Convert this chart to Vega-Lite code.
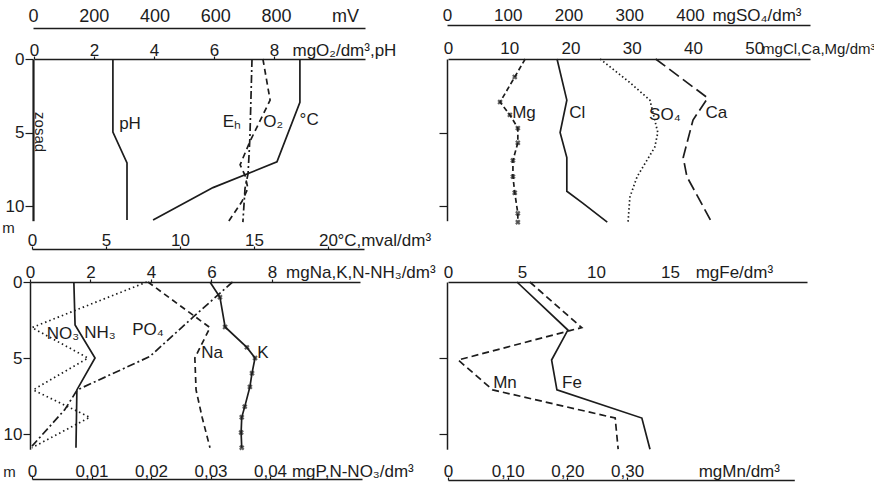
{
  "$schema": "https://vega.github.io/schema/vega-lite/v6.json",
  "width": 874,
  "height": 483,
  "autosize": "none",
  "padding": 0,
  "background": "white",
  "config": {
    "view": {"stroke": null},
    "font": "Liberation Sans, Arial, sans-serif",
    "axis": {
      "grid": false,
      "domainColor": "#1c1c1c",
      "domainWidth": 1.5,
      "tickColor": "#1c1c1c",
      "tickWidth": 1.2,
      "tickSize": 3,
      "labelColor": "#1c1c1c",
      "labelFont": "Liberation Sans, Arial, sans-serif",
      "labelFontSize": 17,
      "labelFlush": false,
      "labelOverlap": false,
      "labelBound": false,
      "labelPadding": 2,
      "titleColor": "#1c1c1c",
      "titleFont": "Liberation Sans, Arial, sans-serif",
      "titleFontWeight": "normal",
      "titleFontSize": 15
    },
    "axisX": {"labelBaseline": "alphabetic"},
    "line": {"color": "#1c1c1c", "strokeWidth": 1.7},
    "point": {"color": "#1c1c1c"},
    "text": {"color": "#1c1c1c", "fontSize": 17, "font": "Liberation Sans, Arial, sans-serif"}
  },
  "data": {
    "values": [
      {"s": "pH", "d": 0, "v": 2.63}, {"s": "pH", "d": 4.97, "v": 2.63}, {"s": "pH", "d": 7.07, "v": 3.1}, {"s": "pH", "d": 10.95, "v": 3.1},
      {"s": "T", "d": 0, "v": 18.1}, {"s": "T", "d": 2.95, "v": 18.1}, {"s": "T", "d": 7.0, "v": 16.55}, {"s": "T", "d": 8.75, "v": 12.23}, {"s": "T", "d": 10.95, "v": 8.18},
      {"s": "Eh", "d": 0, "v": 721}, {"s": "Eh", "d": 5.4, "v": 714}, {"s": "Eh", "d": 7.8, "v": 708}, {"s": "Eh", "d": 8.8, "v": 698}, {"s": "Eh", "d": 11.1, "v": 691},
      {"s": "O2", "d": 0, "v": 7.63}, {"s": "O2", "d": 2.8, "v": 7.87}, {"s": "O2", "d": 5.6, "v": 7.2}, {"s": "O2", "d": 7.2, "v": 6.87}, {"s": "O2", "d": 7.9, "v": 7.03}, {"s": "O2", "d": 8.8, "v": 7.13}, {"s": "O2", "d": 9.7, "v": 6.93}, {"s": "O2", "d": 11.1, "v": 6.47},
      {"s": "Mg", "d": 0, "v": 12.6}, {"s": "Mg", "d": 1.22, "v": 10.9}, {"s": "Mg", "d": 2.93, "v": 8.5}, {"s": "Mg", "d": 3.8, "v": 10.1}, {"s": "Mg", "d": 4.7, "v": 11.4}, {"s": "Mg", "d": 5.7, "v": 11.4}, {"s": "Mg", "d": 6.9, "v": 10.6}, {"s": "Mg", "d": 8.0, "v": 10.6}, {"s": "Mg", "d": 9.1, "v": 10.9}, {"s": "Mg", "d": 10.5, "v": 11.4}, {"s": "Mg", "d": 11.1, "v": 11.4},
      {"s": "Cl", "d": 0, "v": 17.8}, {"s": "Cl", "d": 2.8, "v": 19.4}, {"s": "Cl", "d": 5.0, "v": 18.3}, {"s": "Cl", "d": 6.7, "v": 19.4}, {"s": "Cl", "d": 9.0, "v": 19.4}, {"s": "Cl", "d": 9.8, "v": 22.0}, {"s": "Cl", "d": 11.1, "v": 26.0},
      {"s": "SO4", "d": 0, "v": 252}, {"s": "SO4", "d": 1.6, "v": 301}, {"s": "SO4", "d": 2.8, "v": 334}, {"s": "SO4", "d": 5.0, "v": 347}, {"s": "SO4", "d": 6.0, "v": 342}, {"s": "SO4", "d": 8.0, "v": 313}, {"s": "SO4", "d": 9.4, "v": 301}, {"s": "SO4", "d": 11.1, "v": 298},
      {"s": "Ca", "d": 0, "v": 33.9}, {"s": "Ca", "d": 2.65, "v": 42.4}, {"s": "Ca", "d": 4.15, "v": 40.0}, {"s": "Ca", "d": 6.7, "v": 38.4}, {"s": "Ca", "d": 8.0, "v": 39.0}, {"s": "Ca", "d": 11.15, "v": 43.1},
      {"s": "NH3", "d": 0, "v": 1.45}, {"s": "NH3", "d": 2.83, "v": 1.49}, {"s": "NH3", "d": 5.0, "v": 2.15}, {"s": "NH3", "d": 7.1, "v": 1.55}, {"s": "NH3", "d": 10.9, "v": 1.52},
      {"s": "NO3", "d": 0, "v": 0.0193}, {"s": "NO3", "d": 1.3, "v": 0.0109}, {"s": "NO3", "d": 3.0, "v": 0}, {"s": "NO3", "d": 5.0, "v": 0.0094}, {"s": "NO3", "d": 7.1, "v": 0.0002}, {"s": "NO3", "d": 8.9, "v": 0.0097}, {"s": "NO3", "d": 10.9, "v": 0},
      {"s": "PO4", "d": 0, "v": 0.0337}, {"s": "PO4", "d": 2.3, "v": 0.0271}, {"s": "PO4", "d": 4.9, "v": 0.0198}, {"s": "PO4", "d": 7.1, "v": 0.0076}, {"s": "PO4", "d": 8.4, "v": 0.0055}, {"s": "PO4", "d": 10.8, "v": 0},
      {"s": "Na", "d": 0, "v": 3.9}, {"s": "Na", "d": 3.0, "v": 5.95}, {"s": "Na", "d": 5.0, "v": 5.45}, {"s": "Na", "d": 7.1, "v": 5.49}, {"s": "Na", "d": 8.9, "v": 5.69}, {"s": "Na", "d": 10.9, "v": 5.95},
      {"s": "K", "d": 0, "v": 5.95}, {"s": "K", "d": 1.0, "v": 6.28}, {"s": "K", "d": 2.96, "v": 6.45}, {"s": "K", "d": 4.3, "v": 7.17}, {"s": "K", "d": 5.0, "v": 7.44}, {"s": "K", "d": 6.0, "v": 7.34}, {"s": "K", "d": 6.9, "v": 7.27}, {"s": "K", "d": 8.2, "v": 7.1}, {"s": "K", "d": 8.9, "v": 7.0}, {"s": "K", "d": 9.9, "v": 6.98}, {"s": "K", "d": 10.9, "v": 7.0},
      {"s": "Fe", "d": 0, "v": 4.66}, {"s": "Fe", "d": 3.16, "v": 8.1}, {"s": "Fe", "d": 5.13, "v": 7.0}, {"s": "Fe", "d": 7.1, "v": 7.36}, {"s": "Fe", "d": 8.95, "v": 13.1}, {"s": "Fe", "d": 11.0, "v": 13.65},
      {"s": "Mn", "d": 0, "v": 0.137}, {"s": "Mn", "d": 3.0, "v": 0.224}, {"s": "Mn", "d": 3.2, "v": 0.204}, {"s": "Mn", "d": 5.13, "v": 0.017}, {"s": "Mn", "d": 7.1, "v": 0.075}, {"s": "Mn", "d": 8.95, "v": 0.28}, {"s": "Mn", "d": 11.0, "v": 0.285},
      {"s": "lab", "p": "TL", "t": "pH", "d": 4.42, "v": 3.2},
      {"s": "lab", "p": "TL", "t": "Eₕ", "d": 4.29, "v": 6.6},
      {"s": "lab", "p": "TL", "t": "O₂", "d": 4.29, "v": 7.97},
      {"s": "lab", "p": "TL", "t": "°C", "d": 4.15, "v": 9.17},
      {"s": "osad", "p": "TL", "t": "zosad", "d": 4.97, "v": 0.2},
      {"s": "lab", "p": "TR", "t": "Mg", "d": 3.67, "v": 12.4},
      {"s": "lab", "p": "TR", "t": "Cl", "d": 3.67, "v": 21.1},
      {"s": "lab", "p": "TR", "t": "SO₄", "d": 3.8, "v": 35.4},
      {"s": "lab", "p": "TR", "t": "Ca", "d": 3.67, "v": 43.8},
      {"s": "lab", "p": "BL", "t": "NO₃", "d": 3.42, "v": 1.09},
      {"s": "lab", "p": "BL", "t": "NH₃", "d": 3.36, "v": 2.31},
      {"s": "lab", "p": "BL", "t": "PO₄", "d": 3.16, "v": 3.9},
      {"s": "lab", "p": "BL", "t": "Na", "d": 4.67, "v": 6.02},
      {"s": "lab", "p": "BL", "t": "K", "d": 4.67, "v": 7.7},
      {"s": "lab", "p": "BR", "t": "Mn", "d": 6.64, "v": 3.85},
      {"s": "lab", "p": "BR", "t": "Fe", "d": 6.64, "v": 8.38}
    ]
  },
  "layer": [
    {
      "transform": [{"filter": "datum.s == 'Eh'"}],
      "mark": {"type": "line", "strokeDash": [8, 3, 2, 3]},
      "encoding": {
        "x": {"field": "v", "type": "quantitative", "scale": {"domain": [0, 1093], "range": [33, 365], "nice": false, "zero": false},
          "axis": {"orient": "top", "offset": -28, "title": null, "values": [0, 200, 400, 600, 800, 1027], "ticks": false, "labelPadding": 7, "labelFontSize": 18,
            "labelExpr": "datum.value > 900 ? 'mV' : datum.label"}},
        "y": {"field": "d", "type": "quantitative", "scale": {"domain": [0, 11], "range": [59, 220.7], "nice": false, "zero": false},
          "axis": {"orient": "left", "offset": -33, "title": "m", "titleAngle": 0, "titleX": -25, "titleY": 227, "titleAlign": "center", "titleBaseline": "middle", "values": [0, 5, 10], "tickSize": 8, "labelPadding": 1, "domainWidth": 2.2}},
        "order": {"field": "d", "type": "quantitative"}
      }
    },
    {
      "transform": [{"filter": "datum.s == 'O2'"}],
      "mark": {"type": "line", "strokeDash": [6, 4]},
      "encoding": {
        "x": {"field": "v", "type": "quantitative", "scale": {"domain": [0, 11.033], "range": [34, 365], "nice": false, "zero": false},
          "axis": {"orient": "top", "offset": -59, "title": null, "values": [0, 2, 4, 6, 8, 8.6], "labelPadding": 1,
            "labelExpr": "datum.value > 8.3 ? 'mgO₂/dm³,pH' : datum.label",
            "labelAlign": {"condition": {"test": "datum.value > 8.3", "value": "left"}, "value": "center"},
            "tickOpacity": {"condition": {"test": "datum.value > 8.3", "value": 0}, "value": 1}}},
        "y": {"field": "d", "type": "quantitative", "scale": {"domain": [0, 11], "range": [59, 220.7], "nice": false, "zero": false}, "axis": null},
        "order": {"field": "d", "type": "quantitative"}
      }
    },
    {
      "transform": [{"filter": "datum.s == 'pH'"}],
      "mark": {"type": "line"},
      "encoding": {
        "x": {"field": "v", "type": "quantitative", "scale": {"domain": [0, 11.033], "range": [34, 365], "nice": false, "zero": false}, "axis": null},
        "y": {"field": "d", "type": "quantitative", "scale": {"domain": [0, 11], "range": [59, 220.7], "nice": false, "zero": false}, "axis": null},
        "order": {"field": "d", "type": "quantitative"}
      }
    },
    {
      "transform": [{"filter": "datum.s == 'T'"}],
      "mark": {"type": "line"},
      "encoding": {
        "x": {"field": "v", "type": "quantitative", "scale": {"domain": [0, 22.43], "range": [32, 364], "nice": false, "zero": false},
          "axis": {"orient": "top", "offset": -249, "title": null, "values": [0, 5, 10, 15, 20, 20.6], "labelPadding": 1,
            "labelExpr": "datum.value > 20.3 ? '°C,mval/dm³' : datum.label",
            "labelAlign": {"condition": {"test": "datum.value > 20.3", "value": "left"}, "value": "center"},
            "tickOpacity": {"condition": {"test": "datum.value > 20.3", "value": 0}, "value": 1}}},
        "y": {"field": "d", "type": "quantitative", "scale": {"domain": [0, 11], "range": [59, 220.7], "nice": false, "zero": false}, "axis": null},
        "order": {"field": "d", "type": "quantitative"}
      }
    },
    {
      "transform": [{"filter": "datum.s == 'lab' && datum.p == 'TL'"}],
      "mark": {"type": "text", "align": "center", "baseline": "middle"},
      "encoding": {
        "x": {"field": "v", "type": "quantitative", "scale": {"domain": [0, 11.033], "range": [34, 365], "nice": false, "zero": false}, "axis": null},
        "y": {"field": "d", "type": "quantitative", "scale": {"domain": [0, 11], "range": [59, 220.7], "nice": false, "zero": false}, "axis": null},
        "text": {"field": "t"}
      }
    },
    {
      "transform": [{"filter": "datum.s == 'osad'"}],
      "mark": {"type": "text", "align": "center", "baseline": "middle", "angle": 90, "fontSize": 15},
      "encoding": {
        "x": {"field": "v", "type": "quantitative", "scale": {"domain": [0, 11.033], "range": [34, 365], "nice": false, "zero": false}, "axis": null},
        "y": {"field": "d", "type": "quantitative", "scale": {"domain": [0, 11], "range": [59, 220.7], "nice": false, "zero": false}, "axis": null},
        "text": {"field": "t"}
      }
    },
    {
      "transform": [{"filter": "datum.s == 'SO4'"}],
      "mark": {"type": "line", "strokeDash": [1.5, 2.5]},
      "encoding": {
        "x": {"field": "v", "type": "quantitative", "scale": {"domain": [0, 597.5], "range": [447, 810], "nice": false, "zero": false},
          "axis": {"orient": "top", "offset": -25, "title": null, "values": [0, 100, 200, 300, 400, 436], "ticks": false, "labelPadding": 5,
            "labelExpr": "datum.value > 420 ? 'mgSO₄/dm³' : datum.label",
            "labelAlign": {"condition": {"test": "datum.value > 420", "value": "left"}, "value": "center"}}},
        "y": {"field": "d", "type": "quantitative", "scale": {"domain": [0, 11], "range": [59, 220.7], "nice": false, "zero": false},
          "axis": {"orient": "left", "offset": -447, "title": null, "values": [5, 10], "labels": false, "tickSize": 8}},
        "order": {"field": "d", "type": "quantitative"}
      }
    },
    {
      "transform": [{"filter": "datum.s == 'Cl'"}],
      "mark": {"type": "line"},
      "encoding": {
        "x": {"field": "v", "type": "quantitative", "scale": {"domain": [0, 59.1], "range": [448, 810], "nice": false, "zero": false},
          "axis": {"orient": "top", "offset": -59, "title": null, "values": [0, 10, 20, 30, 40, 50, 51.2], "ticks": false, "labelPadding": 6,
            "labelExpr": "datum.value > 51 ? 'mgCl,Ca,Mg/dm³' : datum.label",
            "labelAlign": {"condition": {"test": "datum.value > 51", "value": "left"}, "value": "center"},
            "labelFontSize": {"condition": {"test": "datum.value > 51", "value": 15}, "value": 17}}},
        "y": {"field": "d", "type": "quantitative", "scale": {"domain": [0, 11], "range": [59, 220.7], "nice": false, "zero": false}, "axis": null},
        "order": {"field": "d", "type": "quantitative"}
      }
    },
    {
      "transform": [{"filter": "datum.s == 'Mg'"}],
      "mark": {"type": "line", "strokeDash": [5, 3]},
      "encoding": {
        "x": {"field": "v", "type": "quantitative", "scale": {"domain": [0, 59.1], "range": [448, 810], "nice": false, "zero": false}, "axis": null},
        "y": {"field": "d", "type": "quantitative", "scale": {"domain": [0, 11], "range": [59, 220.7], "nice": false, "zero": false}, "axis": null},
        "order": {"field": "d", "type": "quantitative"}
      }
    },
    {
      "transform": [{"filter": "datum.s == 'Mg' && datum.d > 0"}],
      "mark": {"type": "point", "shape": "cross", "angle": 45, "size": 30, "filled": true},
      "encoding": {
        "x": {"field": "v", "type": "quantitative", "scale": {"domain": [0, 59.1], "range": [448, 810], "nice": false, "zero": false}, "axis": null},
        "y": {"field": "d", "type": "quantitative", "scale": {"domain": [0, 11], "range": [59, 220.7], "nice": false, "zero": false}, "axis": null}
      }
    },
    {
      "transform": [{"filter": "datum.s == 'Ca'"}],
      "mark": {"type": "line", "strokeDash": [12, 5]},
      "encoding": {
        "x": {"field": "v", "type": "quantitative", "scale": {"domain": [0, 59.1], "range": [448, 810], "nice": false, "zero": false}, "axis": null},
        "y": {"field": "d", "type": "quantitative", "scale": {"domain": [0, 11], "range": [59, 220.7], "nice": false, "zero": false}, "axis": null},
        "order": {"field": "d", "type": "quantitative"}
      }
    },
    {
      "transform": [{"filter": "datum.s == 'lab' && datum.p == 'TR'"}],
      "mark": {"type": "text", "align": "center", "baseline": "middle"},
      "encoding": {
        "x": {"field": "v", "type": "quantitative", "scale": {"domain": [0, 59.1], "range": [448, 810], "nice": false, "zero": false}, "axis": null},
        "y": {"field": "d", "type": "quantitative", "scale": {"domain": [0, 11], "range": [59, 220.7], "nice": false, "zero": false}, "axis": null},
        "text": {"field": "t"}
      }
    },
    {
      "transform": [{"filter": "datum.s == 'NH3'"}],
      "mark": {"type": "line"},
      "encoding": {
        "x": {"field": "v", "type": "quantitative", "scale": {"domain": [0, 10.91], "range": [30, 360], "nice": false, "zero": false},
          "axis": {"orient": "top", "offset": -282, "title": null, "values": [0, 2, 4, 6, 8, 8.45], "labelPadding": 2,
            "labelExpr": "datum.value > 8.2 ? 'mgNa,K,N-NH₃/dm³' : datum.label",
            "labelAlign": {"condition": {"test": "datum.value > 8.2", "value": "left"}, "value": "center"},
            "tickOpacity": {"condition": {"test": "datum.value > 8.2", "value": 0}, "value": 1}}},
        "y": {"field": "d", "type": "quantitative", "scale": {"domain": [0, 11], "range": [282, 449.2], "nice": false, "zero": false},
          "axis": {"orient": "left", "offset": -30, "title": "m", "titleAngle": 0, "titleX": -21, "titleY": 471, "titleAlign": "center", "titleBaseline": "middle", "values": [0, 5, 10], "tickSize": 7, "labelPadding": 1}},
        "order": {"field": "d", "type": "quantitative"}
      }
    },
    {
      "transform": [{"filter": "datum.s == 'NO3'"}],
      "mark": {"type": "line", "strokeDash": [1.5, 3]},
      "encoding": {
        "x": {"field": "v", "type": "quantitative", "scale": {"domain": [0, 0.05546], "range": [32, 362], "nice": false, "zero": false},
          "axis": {"orient": "top", "offset": -479, "title": null, "values": [0, 0.01, 0.02, 0.03, 0.04, 0.0436], "labelPadding": 0,
            "labelExpr": "datum.value > 0.041 ? 'mgP,N-NO₃/dm³' : (datum.value == 0 ? '0' : replace(format(datum.value, '.2f'), '.', ','))",
            "labelAlign": {"condition": {"test": "datum.value > 0.041", "value": "left"}, "value": "center"},
            "tickOpacity": {"condition": {"test": "datum.value > 0.041", "value": 0}, "value": 1}}},
        "y": {"field": "d", "type": "quantitative", "scale": {"domain": [0, 11], "range": [282, 449.2], "nice": false, "zero": false}, "axis": null},
        "order": {"field": "d", "type": "quantitative"}
      }
    },
    {
      "transform": [{"filter": "datum.s == 'PO4'"}],
      "mark": {"type": "line", "strokeDash": [8, 3, 2, 3]},
      "encoding": {
        "x": {"field": "v", "type": "quantitative", "scale": {"domain": [0, 0.05546], "range": [32, 362], "nice": false, "zero": false}, "axis": null},
        "y": {"field": "d", "type": "quantitative", "scale": {"domain": [0, 11], "range": [282, 449.2], "nice": false, "zero": false}, "axis": null},
        "order": {"field": "d", "type": "quantitative"}
      }
    },
    {
      "transform": [{"filter": "datum.s == 'Na'"}],
      "mark": {"type": "line", "strokeDash": [6, 4]},
      "encoding": {
        "x": {"field": "v", "type": "quantitative", "scale": {"domain": [0, 10.91], "range": [30, 360], "nice": false, "zero": false}, "axis": null},
        "y": {"field": "d", "type": "quantitative", "scale": {"domain": [0, 11], "range": [282, 449.2], "nice": false, "zero": false}, "axis": null},
        "order": {"field": "d", "type": "quantitative"}
      }
    },
    {
      "transform": [{"filter": "datum.s == 'K'"}],
      "mark": {"type": "line"},
      "encoding": {
        "x": {"field": "v", "type": "quantitative", "scale": {"domain": [0, 10.91], "range": [30, 360], "nice": false, "zero": false}, "axis": null},
        "y": {"field": "d", "type": "quantitative", "scale": {"domain": [0, 11], "range": [282, 449.2], "nice": false, "zero": false}, "axis": null},
        "order": {"field": "d", "type": "quantitative"}
      }
    },
    {
      "transform": [{"filter": "datum.s == 'K' && datum.d > 0"}],
      "mark": {"type": "point", "shape": "cross", "angle": 45, "size": 30, "filled": true},
      "encoding": {
        "x": {"field": "v", "type": "quantitative", "scale": {"domain": [0, 10.91], "range": [30, 360], "nice": false, "zero": false}, "axis": null},
        "y": {"field": "d", "type": "quantitative", "scale": {"domain": [0, 11], "range": [282, 449.2], "nice": false, "zero": false}, "axis": null}
      }
    },
    {
      "transform": [{"filter": "datum.s == 'lab' && datum.p == 'BL'"}],
      "mark": {"type": "text", "align": "center", "baseline": "middle"},
      "encoding": {
        "x": {"field": "v", "type": "quantitative", "scale": {"domain": [0, 10.91], "range": [30, 360], "nice": false, "zero": false}, "axis": null},
        "y": {"field": "d", "type": "quantitative", "scale": {"domain": [0, 11], "range": [282, 449.2], "nice": false, "zero": false}, "axis": null},
        "text": {"field": "t"}
      }
    },
    {
      "transform": [{"filter": "datum.s == 'Fe'"}],
      "mark": {"type": "line"},
      "encoding": {
        "x": {"field": "v", "type": "quantitative", "scale": {"domain": [0, 24.26], "range": [448, 807], "nice": false, "zero": false},
          "axis": {"orient": "top", "offset": -282, "title": null, "values": [0, 5, 10, 15, 16.7], "ticks": false, "labelPadding": 5,
            "labelExpr": "datum.value > 16 ? 'mgFe/dm³' : datum.label",
            "labelAlign": {"condition": {"test": "datum.value > 16", "value": "left"}, "value": "center"}}},
        "y": {"field": "d", "type": "quantitative", "scale": {"domain": [0, 11], "range": [282, 449.2], "nice": false, "zero": false},
          "axis": {"orient": "left", "offset": -447, "title": null, "values": [5, 10], "labels": false, "tickSize": 8}},
        "order": {"field": "d", "type": "quantitative"}
      }
    },
    {
      "transform": [{"filter": "datum.s == 'Mn'"}],
      "mark": {"type": "line", "strokeDash": [7, 4]},
      "encoding": {
        "x": {"field": "v", "type": "quantitative", "scale": {"domain": [0, 0.58], "range": [448, 794.3], "nice": false, "zero": false},
          "axis": {"orient": "top", "offset": -480, "title": null, "values": [0, 0.1, 0.2, 0.3, 0.419], "labelPadding": 1,
            "labelExpr": "datum.value > 0.4 ? 'mgMn/dm³' : (datum.value == 0 ? '0' : replace(format(datum.value, '.2f'), '.', ','))",
            "labelAlign": {"condition": {"test": "datum.value > 0.4", "value": "left"}, "value": "center"},
            "tickOpacity": {"condition": {"test": "datum.value > 0.4", "value": 0}, "value": 1}}},
        "y": {"field": "d", "type": "quantitative", "scale": {"domain": [0, 11], "range": [282, 449.2], "nice": false, "zero": false}, "axis": null},
        "order": {"field": "d", "type": "quantitative"}
      }
    },
    {
      "transform": [{"filter": "datum.s == 'lab' && datum.p == 'BR'"}],
      "mark": {"type": "text", "align": "center", "baseline": "middle"},
      "encoding": {
        "x": {"field": "v", "type": "quantitative", "scale": {"domain": [0, 24.26], "range": [448, 807], "nice": false, "zero": false}, "axis": null},
        "y": {"field": "d", "type": "quantitative", "scale": {"domain": [0, 11], "range": [282, 449.2], "nice": false, "zero": false}, "axis": null},
        "text": {"field": "t"}
      }
    }
  ],
  "resolve": {"scale": {"x": "independent", "y": "independent"}, "axis": {"x": "independent", "y": "independent"}}
}
